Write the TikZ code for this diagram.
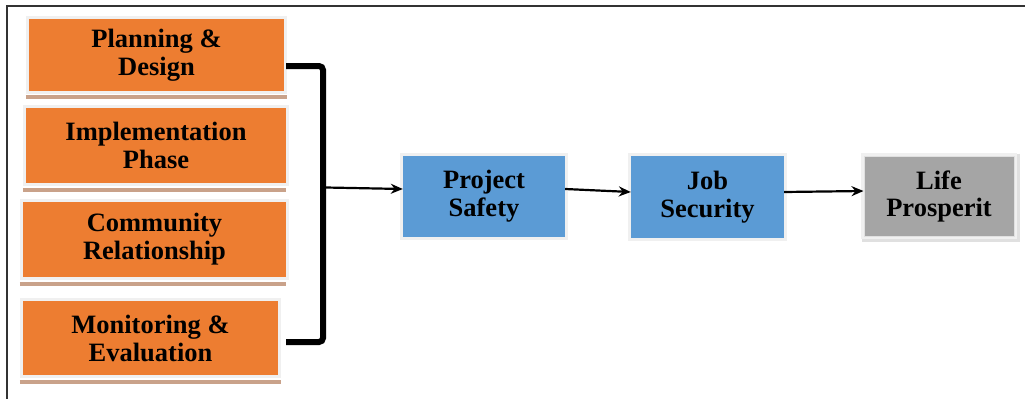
\documentclass[tikz,border=0pt]{standalone}
\usepackage{fontspec}
\setmainfont{Liberation Serif}
\usetikzlibrary{arrows.meta}
\definecolor{orng}{HTML}{ED7D31}
\definecolor{blu}{HTML}{5B9BD5}
\definecolor{gry}{HTML}{A5A5A5}
\definecolor{tan}{HTML}{C9A28A}
\tikzset{
  box/.style={inner sep=0pt, align=center, font=\bfseries\fontsize{26.5}{28}\selectfont,
    preaction={draw=black!6, line width=6pt}},
  obox/.style={box, fill=orng},
  bbox/.style={box, fill=blu},
  gbox/.style={box, fill=gry},
  shadowline/.style={draw=tan, line width=3.5pt},
  conn/.style={draw=black, line width=2.2pt, -{Stealth[length=12pt,width=10pt]}},
  bracket/.style={draw=black, line width=6pt, rounded corners=4pt},
}
\begin{document}
\begin{tikzpicture}[x=1pt,y=-1pt]
\useasboundingbox (0,0) rectangle (1025,399);
\fill[white] (0,0) rectangle (1025,399);
\draw[black!80, line width=2pt] (1025,6) -- (7,6) -- (7,399);

\node[obox, minimum width=255pt, minimum height=72pt] (p1) at (156.5,55) {Planning \&\\Design};
\node[obox, minimum width=260pt, minimum height=75pt] (p2) at (156,145.5) {Implementation\\Phase};
\node[obox, minimum width=263pt, minimum height=75pt] (p3) at (154.5,239.5) {Community\\Relationship};
\node[obox, minimum width=255pt, minimum height=74pt] (p4) at (150.5,338) {Monitoring \&\\Evaluation};

\draw[shadowline] ([xshift=-3pt,yshift=-6pt]p1.south west) -- ([xshift=3pt,yshift=-6pt]p1.south east);
\draw[shadowline] ([xshift=-3pt,yshift=-7pt]p2.south west) -- ([xshift=0pt,yshift=-7pt]p2.south east);
\draw[shadowline] ([xshift=-3pt,yshift=-7pt]p3.south west) -- ([xshift=0pt,yshift=-7pt]p3.south east);
\draw[shadowline] ([xshift=-3pt,yshift=-7pt]p4.south west) -- ([xshift=3pt,yshift=-7pt]p4.south east);

\node[bbox, minimum width=162pt, minimum height=81pt] (ps) at (484,196.5) {Project\\Safety};
\node[bbox, minimum width=153pt, minimum height=82pt] (js) at (707.5,197) {Job\\Security};
\node[gbox, minimum width=150pt, minimum height=80pt, draw=black!12, line width=1pt] (lp) at (939,196) {Life\\[-1pt]Prosperit};
\draw[black!12, line width=3pt] ([xshift=4pt,yshift=2pt]lp.north east) -- ([xshift=4pt,yshift=-4pt]lp.south east) -- ([xshift=-2pt,yshift=-4pt]lp.south west);

\draw[bracket] ([xshift=2pt,yshift=-11pt]p1.east) -| (323,200) |- ([xshift=8pt,yshift=-4pt]p4.east);
\coordinate (br) at (326,187.5);
\draw[conn] (br) -- ([yshift=7.5pt]ps.west);
\draw[conn] ([yshift=7.5pt]ps.east) -- ([yshift=5pt]js.west);
\draw[conn] ([yshift=5pt]js.east) -- ([yshift=5pt]lp.west);
\end{tikzpicture}
\end{document}
